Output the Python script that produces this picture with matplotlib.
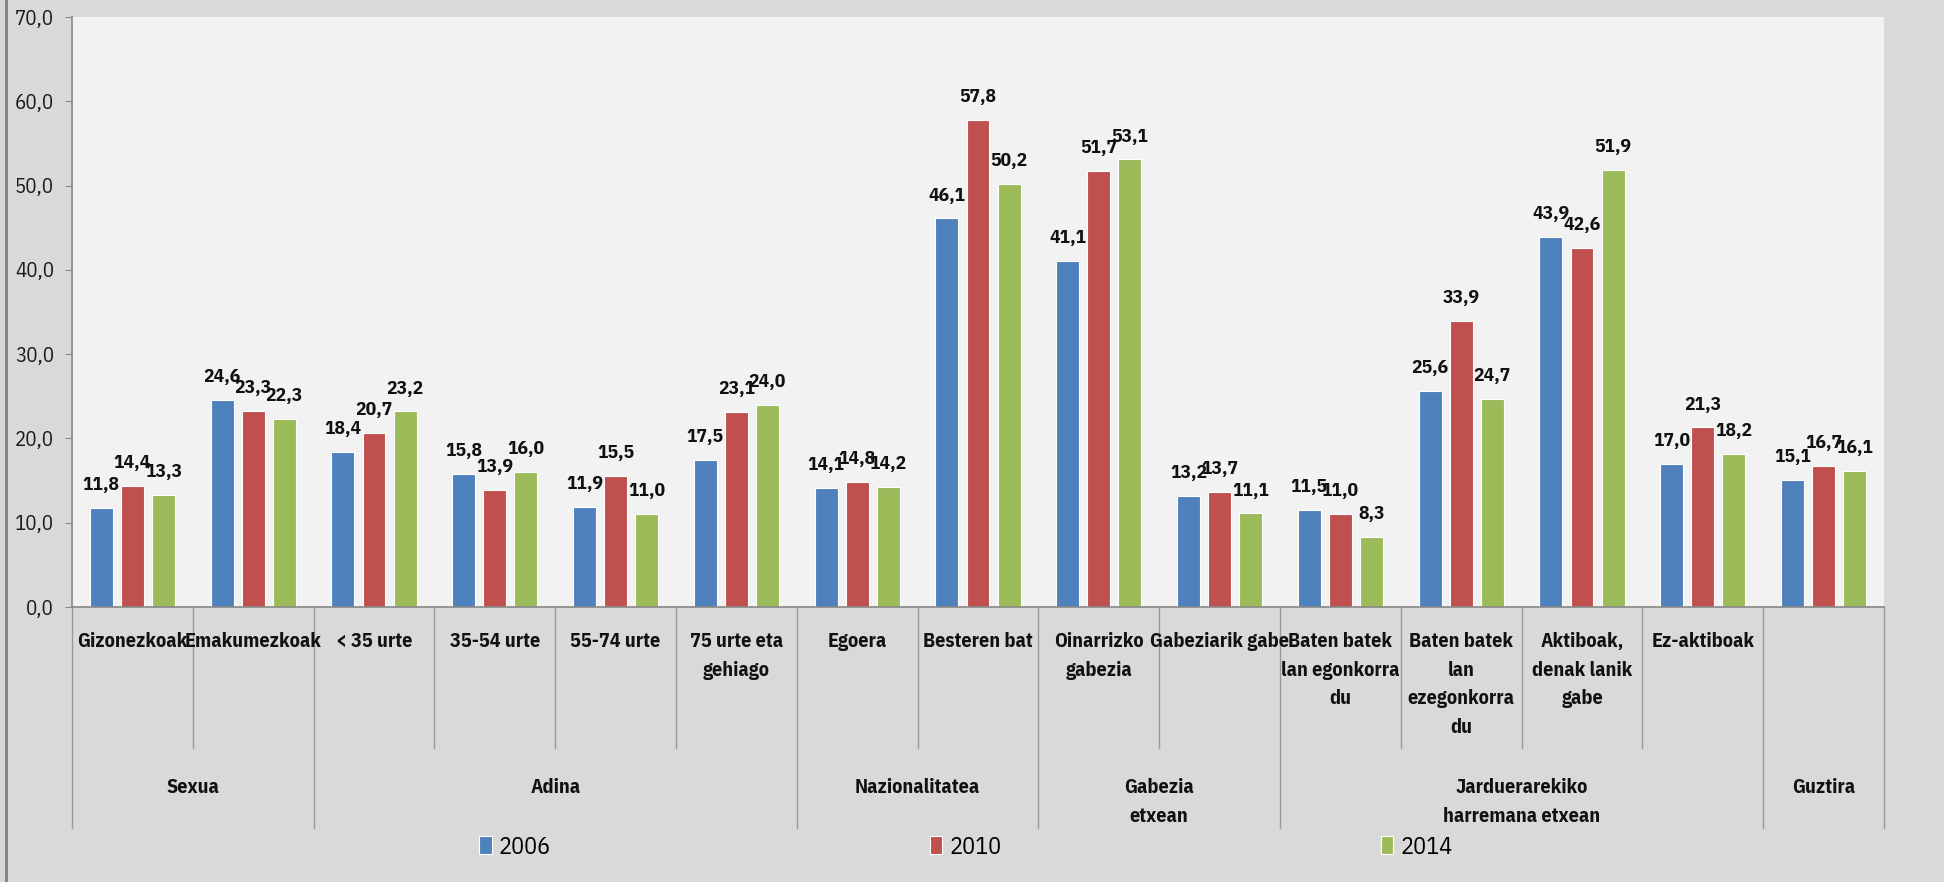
import numpy as np
import matplotlib
matplotlib.use("Agg")
import matplotlib.pyplot as plt
from matplotlib import font_manager as fm
from matplotlib.lines import Line2D
import matplotlib.transforms as mtransforms

categories = ["Gizonezkoak", "Emakumezkoak", "< 35 urte", "35-54 urte", "55-74 urte",
              "75 urte eta\ngehiago", "Egoera", "Besteren bat", "Oinarrizko\ngabezia",
              "Gabeziarik gabe", "Baten batek\nlan egonkorra\ndu",
              "Baten batek\nlan\nezegonkorra\ndu", "Aktiboak,\ndenak lanik\ngabe",
              "Ez-aktiboak", ""]
groups = ["Sexua", "Adina", "Nazionalitatea", "Gabezia\netxean",
          "Jarduerarekiko\nharremana etxean", "Guztira"]
group_sizes = [2, 4, 2, 2, 4, 1]
years = ["2006", "2010", "2014"]
v2006 = [11.8, 24.6, 18.4, 15.8, 11.9, 17.5, 14.1, 46.1, 41.1, 13.2, 11.5, 25.6, 43.9, 17.0, 15.1]
v2010 = [14.4, 23.3, 20.7, 13.9, 15.5, 23.1, 14.8, 57.8, 51.7, 13.7, 11.0, 33.9, 42.6, 21.3, 16.7]
v2014 = [13.3, 22.3, 23.2, 16.0, 11.0, 24.0, 14.2, 50.2, 53.1, 11.1, 8.3, 24.7, 51.9, 18.2, 16.1]
colors = ["#4F81BD", "#C0504D", "#9BBB59"]

names = {f.name for f in fm.fontManager.ttflist}
if "IBM Plex Sans Condensed" in names:
    plt.rcParams["font.family"] = ["IBM Plex Sans Condensed", "DejaVu Sans"]
    k = 1.0
else:
    plt.rcParams["font.family"] = ["DejaVu Sans"]
    plt.rcParams["font.stretch"] = "condensed"
    k = 0.8

fig = plt.figure(figsize=(19.44, 8.82), dpi=100, facecolor="#D9D9D9")
ax = fig.add_axes([72 / 1944, 1 - 607 / 882, (1884 - 72) / 1944, 590 / 882])
ax.set_facecolor("#F2F2F2")

x = np.arange(len(categories))
w = 0.19
step = 0.257
for i, (vals, c, yr) in enumerate(zip([v2006, v2010, v2014], colors, years)):
    xs = x + (i - 1) * step
    ax.bar(xs, vals, w, color=c, edgecolor="white", linewidth=0.8, label=yr)
    for xx, v in zip(xs, vals):
        ax.annotate(f"{v:.1f}".replace(".", ","), (xx, v), xytext=(0, 10),
                    textcoords="offset points", ha="center", va="bottom",
                    fontsize=14 * k, fontweight="bold", color="#111111")

ax.set_xlim(-0.5, len(categories) - 0.5)
ax.set_ylim(0, 70)
ticks = np.arange(0, 71, 10)
ax.set_yticks(ticks)
ax.set_yticklabels([f"{t:.1f}".replace(".", ",") for t in ticks],
                   fontsize=15 * k, color="#1a1a1a")
ax.tick_params(axis="y", length=5, color="#888888", pad=8)
ax.set_xticks([])
for s in ["top", "right"]:
    ax.spines[s].set_visible(False)
for s in ["left", "bottom"]:
    ax.spines[s].set_color("#888888")
    ax.spines[s].set_linewidth(1.2)

trans = mtransforms.blended_transform_factory(ax.transData, ax.transAxes)
inner_y = (607 - 748) / 590
group_y = (607 - 828) / 590

# separators: short ones between categories, long ones between groups
bounds = np.cumsum([0] + group_sizes) - 0.5
for b in np.arange(-0.5, len(categories)):
    yb = group_y if b in bounds else inner_y
    ax.add_line(Line2D([b, b], [0, yb], transform=trans, color="#999999",
                       linewidth=1.0, clip_on=False))

for xi, lab in zip(x, categories):
    ax.text(xi, -0.042, lab, transform=trans, ha="center", va="top",
            fontsize=14.5 * k, fontweight="bold", linespacing=1.65, color="#111111")

start = 0
for g, n in zip(groups, group_sizes):
    cx = start + (n - 1) / 2
    ax.text(cx, -0.29, g, transform=trans, ha="center", va="top",
            fontsize=14.5 * k, fontweight="bold", linespacing=1.65, color="#111111")
    start += n

fig.add_artist(Line2D([6 / 1944, 6 / 1944], [0, 1], transform=fig.transFigure,
                      color="#808080", linewidth=2))

fig.legend(loc="center", bbox_to_anchor=(966 / 1944, 1 - 847 / 882), ncol=3,
           frameon=False, fontsize=17.5 * k, handlelength=0.5, handleheight=0.75,
           handletextpad=0.3, columnspacing=15.6)

fig.savefig("out.png", dpi=100, facecolor=fig.get_facecolor())
